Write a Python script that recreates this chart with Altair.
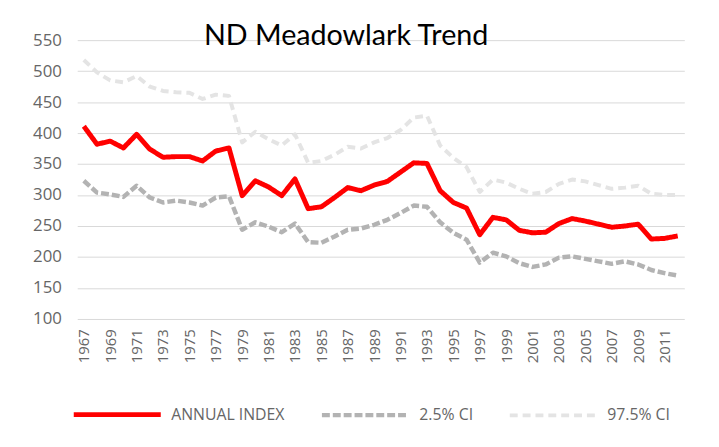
import altair as alt
import pandas as pd

years = list(range(1967, 2013))

annual_index = [411, 382, 387, 376, 398, 374, 361, 362, 362, 355, 371, 376,
                299, 323, 313, 299, 326, 278, 281, 296, 312, 307, 316, 322,
                337, 352, 351, 307, 288, 279, 236, 264, 260, 243, 239, 240,
                254, 262, 258, 253, 248, 250, 253, 229, 230, 234]

ci_low = [323, 304, 301, 297, 315, 296, 288, 291, 288, 283, 296, 298,
          244, 256, 249, 240, 254, 224, 223, 233, 244, 246, 252, 260,
          271, 283, 281, 256, 239, 228, 191, 207, 201, 190, 184, 188,
          199, 201, 197, 193, 189, 193, 188, 179, 174, 170]

ci_high = [518, 498, 485, 482, 492, 475, 468, 466, 465, 455, 462, 460,
           385, 402, 390, 380, 398, 352, 355, 365, 378, 375, 385, 392,
           405, 425, 428, 380, 360, 345, 305, 325, 320, 310, 302, 305,
           318, 325, 322, 316, 310, 312, 315, 302, 300, 300]

series_names = ["ANNUAL INDEX", "2.5% CI", "97.5% CI"]
tick_years = list(range(1967, 2012, 2))
title_text = "ND Meadowlark Trend"

rows = []
for name, vals, order in [("97.5% CI", ci_high, 0), ("2.5% CI", ci_low, 1), ("ANNUAL INDEX", annual_index, 2)]:
    for y, v in zip(years, vals):
        rows.append({"year": y, "value": v, "series": name, "ord": order})
df = pd.DataFrame(rows)

lines = alt.Chart(df).mark_line(strokeCap="butt", strokeJoin="round").encode(
    x=alt.X("year:O", scale=alt.Scale(type="point", padding=0.5),
            axis=alt.Axis(values=tick_years, labelAngle=-90, title=None,
                          grid=False, ticks=False, domain=False,
                          labelPadding=10, labelFontSize=15,
                          labelColor="#666666", labelFont="Open Sans")),
    y=alt.Y("value:Q", scale=alt.Scale(domain=[100, 550], nice=False, zero=False),
            axis=alt.Axis(values=[100, 150, 200, 250, 300, 350, 400, 450, 500, 550],
                          title=None, ticks=False, domain=False,
                          labelPadding=16, labelFontSize=17,
                          labelColor="#666666", labelFont="Open Sans",
                          gridColor="#d9d9d9", gridWidth=1)),
    color=alt.Color("series:N", title=None,
                    scale=alt.Scale(domain=series_names, range=["#ff0000", "#b3b3b3", "#e4e4e4"])),
    strokeDash=alt.StrokeDash("series:N", title=None,
                              scale=alt.Scale(domain=series_names, range=[[1, 0], [8, 3], [8, 5]])),
    strokeWidth=alt.StrokeWidth("series:N", title=None,
                                scale=alt.Scale(domain=series_names, range=[5, 4, 4])),
    detail="ord:O",
    order="ord:Q",
)

title_df = pd.DataFrame({"t": [title_text]})
title = alt.Chart(title_df).mark_text(font="Lato", fontSize=29, color="#000000",
                                      align="center", baseline="alphabetic").encode(
    text="t:N", x=alt.value(272), y=alt.value(5))

chart = alt.layer(lines, title).properties(
    width=614, height=282,
    autosize=alt.AutoSizeParams(type="none"),
    padding={"left": 70, "top": 30, "right": 27, "bottom": 127},
    background="#ffffff",
).configure_view(stroke=None).configure_legend(
    orient="none", legendX=-6, legendY=332, direction="horizontal", columns=3,
    symbolType="stroke", symbolSize=7744, labelFontSize=16, labelFont="Open Sans",
    labelColor="#666666", labelOffset=8, columnPadding=28, labelLimit=300,
)

chart.save("out.html", embed_options={"renderer": "svg", "actions": False})
